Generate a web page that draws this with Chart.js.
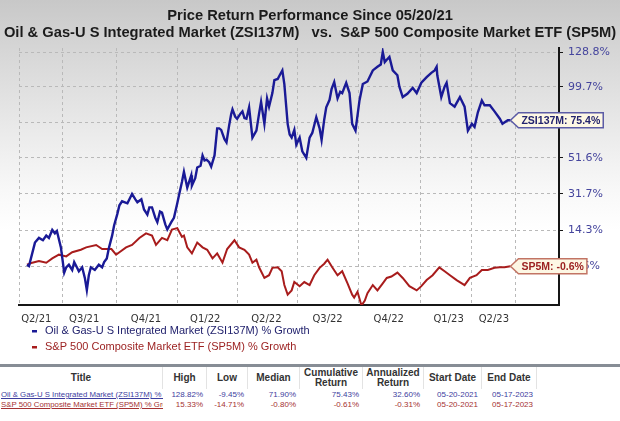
<!DOCTYPE html>
<html>
<head>
<meta charset="utf-8">
<script src="https://cdn.jsdelivr.net/npm/chart.js@4.4.1/dist/chart.umd.min.js"></script>
<style>
  html, body { margin: 0; padding: 0; }
  body {
    width: 620px; height: 421px; overflow: hidden; position: relative;
    background: linear-gradient(#c8c8c8 0px, #d6d6d6 50px, #eaeaea 130px, #f8f8f8 190px, #ffffff 230px);
    font-family: "Liberation Sans", Arial, sans-serif;
  }
  #chart { position: absolute; left: 0; top: 0; }
  #tbl {
    position: absolute; left: 0; top: 364px; width: 620px; height: 57px;
    background: #fff; border-top: 3px solid #878d95;
  }
  .hd {
    position: absolute; top: 0; height: 22px; display: flex; align-items: center; justify-content: center;
    text-align: center; font-weight: bold; font-size: 10px; line-height: 10.5px; color: #333;
    border-right: 1px solid #e3e3e3; box-sizing: border-box;
  }
  .cl {
    position: absolute; height: 10px; line-height: 10px; font-size: 8px; white-space: nowrap;
    overflow: hidden; box-sizing: border-box; text-align: right; padding-right: 4px;
  }
  .cl.t { text-align: left; padding: 0 0 0 1px; text-decoration: underline; font-size: 7.8px; }
</style>
</head>
<body>
<canvas id="chart" width="620" height="421"></canvas>
<div id="tbl"></div>
<script>
// % growth since 05/20/21, x = days after start date
const zsiDays = [0, 3, 12, 18, 24, 29, 33, 38, 42, 45,
  51, 56, 59, 63, 68, 71, 75, 78, 83, 87,
  90, 93, 96, 102, 108, 113, 116, 120, 123, 128,
  131, 136, 139, 143, 151, 158, 163, 166, 172, 176,
  181, 184, 188, 193, 196, 200, 203, 208, 211, 217,
  221, 226, 229, 233, 236, 241, 247, 248, 253, 256,
  261, 264, 267, 270, 274, 277, 282, 286, 289, 292,
  297, 300, 304, 307, 309, 313, 316, 321, 324, 327,
  330, 334, 339, 345, 349, 352, 357, 361, 364, 369,
  372, 377, 380, 384, 387, 392, 395, 398, 402, 405,
  410, 414, 420, 425, 429, 435, 440, 443, 447, 450,
  455, 458, 462, 467, 471, 474, 480, 485, 489, 494,
  500, 505, 512, 520, 527, 532, 535, 538, 541, 545,
  550, 557, 560, 565, 572, 580, 586, 593, 601, 608,
  613, 616, 617, 623, 628, 631, 636, 643, 651, 658,
  663, 669, 673, 678, 684, 688, 696, 703, 711, 715,
  723, 727];
const zsiPct = [0, -0.5, 9, 11, 10, 12, 11, 14.5, 13, 14,
  7, -3, -1, 0, -2, 1, -1, -2.5, -1, -5,
  -9.4, -4, -1, -2, 0, -1, 1, 2.5, 6.5, 12,
  16.5, 22, 26, 28, 27, 31.7, 29, 27.5, 29, 24,
  21.5, 25, 25, 20, 18, 23, 22.5, 17, 14.7, 18,
  20, 27, 31.7, 38, 43.6, 35, 41.6, 36, 40, 46,
  47, 53, 50, 50.5, 49, 46.5, 53, 70, 70, 69,
  63, 61, 72, 79.6, 83, 78, 76.5, 80, 81.6, 77,
  76.5, 84.5, 64, 68.5, 80, 88.5, 73, 91, 85, 95,
  105, 106, 109, 113, 102, 73, 66, 64, 69, 59.5,
  64, 55.5, 51.6, 64, 67, 77.5, 70, 62.5, 76, 84.5,
  90, 98, 103.5, 91, 96, 95, 103, 95, 73, 68.5,
  89.5, 102, 104, 113, 116, 118, 128.8, 120, 122, 124.5,
  113, 109, 100, 92, 94.5, 99, 95, 103, 107.5, 111,
  113, 116, 109, 92, 100, 103, 87.5, 85, 92, 85,
  68.5, 73, 71, 81, 89.5, 86, 86, 81.6, 76.5, 73,
  75.4, 75.4];

const spDays = [0, 8, 18, 29, 38, 48, 59, 68, 81, 89,
  104, 113, 127, 134, 139, 149, 158, 169, 179, 188,
  194, 203, 211, 218, 226, 233, 236, 241, 248, 256,
  264, 271, 279, 286, 294, 301, 312, 319, 327, 334,
  339, 345, 349, 357, 364, 369, 377, 383, 387, 392,
  398, 402, 410, 417, 425, 432, 440, 447, 452, 459,
  467, 474, 482, 489, 492, 497, 503, 508, 512, 520,
  527, 535, 541, 548, 557, 565, 575, 586, 593, 601,
  610, 620, 628, 636, 646, 658, 666, 676, 684, 693,
  703, 711, 718, 727];
const spPct = [0, 0.8, 1.5, 0.8, 2.5, 4, 3.3, 5, 6, 7,
  8, 6.3, 6.3, 4, 5, 7, 8, 11, 13, 12,
  8, 11, 10, 14.7, 15.3, 11.5, 12, 7, 4.5, 9,
  7, 6, 2.5, 4.5, 0.8, 6.3, 10, 7, 6, 4,
  0.8, 2, -1, -5, -4, -1.2, -1, -2.5, -7.6, -11,
  -9.5, -6.5, -8, -6.5, -7.6, -4, -1.2, 0.4, 2, -1,
  -4, -2.5, -7, -11, -12, -10, -14.7, -13, -10.5, -7.6,
  -9.5, -7, -5, -4.5, -3, -5, -8, -9.5, -8, -5.8,
  -4, -1, -2.5, -4, -5.8, -7.6, -5, -4, -2, -2,
  -1.2, -1, -1, -0.6];

const quarterLabels = ['Q2/21', 'Q3/21', 'Q4/21', 'Q1/22', 'Q2/22', 'Q3/22', 'Q4/22', 'Q1/23', 'Q2/23'];
const quarterDays = [14, 86, 179, 268, 360, 452, 544, 634, 702];
const gridDays = [54, 134, 226, 316, 407, 499, 591, 669, 735];
const yTicks = [128.8, 99.7, 74.0, 51.6, 31.7, 14.3, -0.6];

const titleLines = ['Price Return Performance Since 05/20/21',
  'Oil & Gas-U S Integrated Market (ZSI137M)   vs.  S&P 500 Composite Market ETF (SP5M)'];

const tableHeaders = ['Title', 'High', 'Low', 'Median', 'Cumulative Return', 'Annualized Return', 'Start Date', 'End Date'];
const tableRows = [
  ['Oil & Gas-U S Integrated Market (ZSI137M) % Growth', '128.82%', '-9.45%', '71.90%', '75.43%', '32.60%', '05-20-2021', '05-17-2023'],
  ['S&P 500 Composite Market ETF (SP5M) % Growth', '15.33%', '-14.71%', '-0.80%', '-0.61%', '-0.31%', '05-20-2021', '05-17-2023']
];
const rowColors = ['#3d3d9e', '#a53232'];
const colEdges = [0, 163, 207, 248, 300, 363, 424, 482, 537];

const FONT = '"Liberation Sans", Arial, sans-serif';

// two-line title across the full width (built-in title gets squeezed by the left padding)
const titleBlock = {
  id: 'titleBlock',
  afterDraw(chart) {
    const ctx = chart.ctx;
    ctx.save();
    ctx.font = 'bold 14.7px ' + FONT;
    ctx.fillStyle = '#1b1b1b';
    ctx.textAlign = 'center';
    ctx.textBaseline = 'middle';
    titleLines.forEach((t, i) => ctx.fillText(t, chart.width / 2, 16 + i * 17.3));
    ctx.restore();
  }
};

// price box at the end of each line
const endLabels = {
  id: 'endLabels',
  afterDatasetsDraw(chart) {
    const ctx = chart.ctx;
    chart.data.datasets.forEach((ds, i) => {
      const meta = chart.getDatasetMeta(i);
      const pt = meta.data[meta.data.length - 1];
      const last = ds.data[ds.data.length - 1].y - 100;
      const text = ds.short + ': ' + last.toFixed(1) + '%';
      ctx.save();
      ctx.font = 'bold 10.5px ' + FONT;
      const w = ctx.measureText(text).width;
      const x0 = pt.x, y0 = pt.y, h = 15, a = 8;
      ctx.beginPath();
      ctx.moveTo(x0, y0);
      ctx.lineTo(x0 + a, y0 - h / 2);
      ctx.lineTo(x0 + a + w + 6, y0 - h / 2);
      ctx.lineTo(x0 + a + w + 6, y0 + h / 2);
      ctx.lineTo(x0 + a, y0 + h / 2);
      ctx.closePath();
      ctx.fillStyle = '#fdf7e4';
      ctx.fill();
      ctx.lineWidth = 1.5;
      ctx.strokeStyle = ds.boxColor;
      ctx.stroke();
      ctx.fillStyle = ds.textColor;
      ctx.textBaseline = 'middle';
      ctx.fillText(text, x0 + a + 3, y0 + 0.5);
      ctx.restore();
    });
  }
};

// legend, one series per row under the x axis
const legendRows = {
  id: 'legendRows',
  afterDraw(chart) {
    const ctx = chart.ctx;
    const left = chart.chartArea.left;
    const top = chart.chartArea.bottom;
    chart.data.datasets.forEach((ds, i) => {
      const y = top + 26 + i * 16;
      ctx.save();
      ctx.fillStyle = ds.borderColor;
      ctx.fillRect(left + 13, y - 1, 5, 2.5);
      ctx.font = '11px ' + FONT;
      ctx.fillStyle = ds.textColor;
      ctx.textBaseline = 'middle';
      ctx.fillText(ds.label, left + 26, y);
      ctx.restore();
    });
  }
};

new Chart(document.getElementById('chart').getContext('2d'), {
  type: 'line',
  data: {
    datasets: [
      {
        label: 'Oil & Gas-U S Integrated Market (ZSI137M) % Growth',
        short: 'ZSI137M',
        data: zsiDays.map((d, i) => ({ x: d, y: 100 + zsiPct[i] })),
        borderColor: '#1a1a96',
        borderWidth: 2.4,
        textColor: '#23236e',
        boxColor: '#5c5ca6',
        pointRadius: 0,
        tension: 0
      },
      {
        label: 'S&P 500 Composite Market ETF (SP5M) % Growth',
        short: 'SP5M',
        data: spDays.map((d, i) => ({ x: d, y: 100 + spPct[i] })),
        borderColor: '#a81c1c',
        borderWidth: 2,
        textColor: '#9c2222',
        boxColor: '#c27464',
        pointRadius: 0,
        tension: 0
      }
    ]
  },
  options: {
    responsive: false,
    animation: false,
    layout: { padding: { left: 19, right: 0, top: 48, bottom: 86 } },
    plugins: {
      legend: { display: false },
      tooltip: { enabled: false },
      title: { display: false }
    },
    scales: {
      x: {
        type: 'linear', position: 'bottom', min: -12, max: 800,
        afterBuildTicks: s => { s.ticks = quarterDays.map(v => ({ value: v })); },
        ticks: {
          callback: (v, i) => quarterLabels[i],
          font: { family: 'DejaVu Sans', size: 10 }, color: '#333',
          padding: 0, maxRotation: 0, autoSkip: false
        },
        grid: { display: false },
        border: { color: '#161616', width: 2 },
        afterFit: s => { s.height = 30; }
      },
      xg: {
        type: 'linear', position: 'bottom', min: -12, max: 800,
        afterBuildTicks: s => { s.ticks = [-12, ...gridDays].map(v => ({ value: v })); },
        ticks: { display: false },
        grid: { color: '#b9b9b9', lineWidth: 1, drawTicks: false, borderDash: [3, 3] },
        border: { display: false, dash: [3, 3] },
        afterFit: s => { s.height = 0; }
      },
      y: {
        type: 'logarithmic', position: 'right', min: 85.5, max: 232.4,
        afterBuildTicks: s => { s.ticks = yTicks.map(v => ({ value: 100 + v })); },
        ticks: {
          callback: v => (v - 100).toFixed(1) + '%',
          font: { family: 'DejaVu Sans', size: 11 }, color: '#45459d', padding: 5
        },
        grid: { color: '#b9b9b9', tickColor: '#161616', tickLength: 4, borderDash: [3, 3] },
        border: { color: '#161616', width: 2, dash: [3, 3] },
        afterFit: s => { s.width = 61; }
      }
    }
  },
  plugins: [titleBlock, endLabels, legendRows]
});

// statistics table
const tbl = document.getElementById('tbl');
tableHeaders.forEach((h, c) => {
  const d = document.createElement('div');
  d.className = 'hd';
  d.style.left = colEdges[c] + 'px';
  d.style.width = (colEdges[c + 1] - colEdges[c]) + 'px';
  d.textContent = h;
  tbl.appendChild(d);
});
tableRows.forEach((row, r) => {
  row.forEach((val, c) => {
    const d = document.createElement('div');
    d.className = c === 0 ? 'cl t' : 'cl';
    d.style.left = colEdges[c] + 'px';
    d.style.width = (colEdges[c + 1] - colEdges[c]) + 'px';
    d.style.top = (23 + r * 9.5) + 'px';
    d.style.color = rowColors[r];
    d.textContent = val;
    tbl.appendChild(d);
  });
});
</script>
</body>
</html>
